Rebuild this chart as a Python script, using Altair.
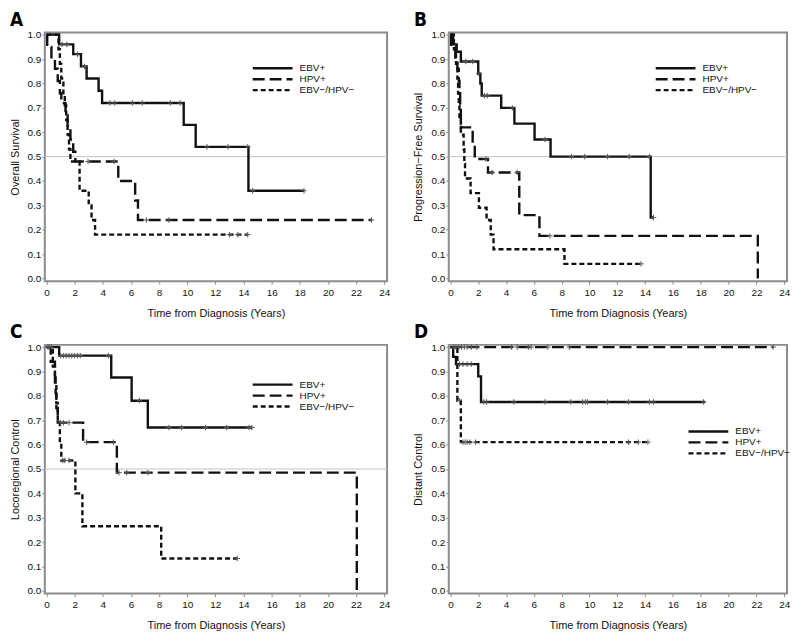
import altair as alt
import pandas as pd

GROUPS = ["EBV+", "HPV+", "EBV−/HPV−"]
X_TICKS = list(range(0, 25, 2))
Y_TICKS = [0.0, 0.1, 0.2, 0.3, 0.4, 0.5, 0.6, 0.7, 0.8, 0.9, 1.0]
X_TITLE = "Time from Diagnosis (Years)"

# ---- Panel A: Overall survival ----
A_EBV_T = [0, 0.9, 1.9, 2.45, 2.85, 3.7, 3.95, 9.75, 10.6, 14.35, 18.3]
A_EBV_S = [1.0, 0.96, 0.92, 0.87, 0.82, 0.77, 0.72, 0.63, 0.54, 0.36, 0.36]
A_EBV_C = [1.1, 1.45, 2.2, 2.7, 4.5, 4.85, 6.1, 6.8, 8.8, 9.5, 11.4, 12.9, 14.3, 14.65, 18.3]
A_HPV_T = [0, 0.05, 0.35, 0.6, 0.8, 0.95, 1.05, 1.35, 1.5, 1.7, 1.9, 2.05, 5.1, 6.3, 6.5, 23.1]
A_HPV_S = [1.0, 0.95, 0.90, 0.86, 0.81, 0.76, 0.72, 0.67, 0.62, 0.57, 0.52, 0.48, 0.40, 0.32, 0.24, 0.24]
A_HPV_C = [2.95, 4.8, 7.1, 8.7, 23.1]
A_NEG_T = [0, 0.85, 0.95, 1.05, 1.2, 1.3, 1.4, 1.5, 1.6, 1.7, 2.35, 3.0, 3.2, 3.45, 14.3]
A_NEG_S = [1.0, 0.94, 0.88, 0.82, 0.76, 0.71, 0.65, 0.59, 0.53, 0.48, 0.36, 0.30, 0.24, 0.18, 0.18]
A_NEG_C = [13.0, 13.6, 14.3]

# ---- Panel B: Progression-free survival ----
B_EBV_T = [0, 0.2, 0.45, 0.75, 2.0, 2.15, 2.25, 3.65, 4.6, 6.05, 7.2, 14.4, 14.6]
B_EBV_S = [1.0, 0.96, 0.93, 0.89, 0.84, 0.80, 0.75, 0.70, 0.635, 0.57, 0.50, 0.25, 0.25]
B_EBV_C = [1.1, 1.6, 2.05, 2.45, 2.65, 4.45, 6.8, 8.7, 9.65, 11.3, 12.85, 14.3, 14.6]
B_HPV_T = [0, 0.05, 0.35, 0.5, 0.6, 0.65, 0.7, 0.75, 1.6, 1.75, 2.7, 4.95, 6.4, 22.1]
B_HPV_S = [1.0, 0.95, 0.90, 0.86, 0.81, 0.76, 0.71, 0.62, 0.555, 0.49, 0.435, 0.26, 0.175, 0.0]
B_HPV_C = [2.55, 3.0, 4.8, 7.15]
B_NEG_T = [0, 0.25, 0.4, 0.5, 0.55, 0.6, 0.65, 0.75, 0.95, 1.0, 1.05, 1.45, 2.05, 2.6, 2.9, 3.1, 8.2, 13.7]
B_NEG_S = [1.0, 0.94, 0.88, 0.82, 0.76, 0.71, 0.65, 0.59, 0.53, 0.47, 0.41, 0.35, 0.29, 0.24, 0.18, 0.12, 0.06, 0.06]
B_NEG_C = [13.7]

# ---- Panel C: Locoregional control ----
C_EBV_T = [0, 0.9, 4.6, 6.05, 7.2, 14.6]
C_EBV_S = [1.0, 0.965, 0.875, 0.78, 0.67, 0.67]
C_EBV_C = [0.1, 0.2, 0.35, 1.0, 1.2, 1.4, 1.6, 1.8, 2.0, 2.2, 2.4, 4.4, 6.6, 8.7, 9.6, 11.3, 12.8, 14.4, 14.6]
C_HPV_T = [0, 0.3, 0.6, 0.65, 0.7, 0.8, 2.6, 5.0, 22.05]
C_HPV_S = [1.0, 0.94, 0.875, 0.81, 0.75, 0.69, 0.61, 0.485, 0.0]
C_HPV_C = [1.0, 1.2, 1.6, 2.85, 4.75, 5.15, 5.7, 7.2]
C_NEG_T = [0, 0.45, 0.6, 0.7, 0.8, 0.95, 1.05, 2.05, 2.55, 8.15, 13.55]
C_NEG_S = [1.0, 0.92, 0.85, 0.77, 0.69, 0.615, 0.535, 0.40, 0.265, 0.133, 0.133]
C_NEG_C = [1.15, 1.3, 1.6, 13.55]

# ---- Panel D: Distant control ----
D_EBV_T = [0, 0.2, 0.4, 2.0, 2.2, 18.3]
D_EBV_S = [1.0, 0.96, 0.93, 0.88, 0.775, 0.775]
D_EBV_C = [0.65, 0.9, 1.2, 1.5, 2.4, 2.6, 4.55, 6.8, 8.65, 9.5, 9.7, 9.85, 11.3, 12.8, 14.3, 14.6, 18.2]
D_HPV_T = [0, 23.2]
D_HPV_S = [1.0, 1.0]
D_HPV_C = [0.2, 0.4, 0.6, 0.8, 1.0, 1.2, 1.5, 1.9, 4.4, 4.8, 5.6, 5.8, 7.0, 8.55, 23.2]
D_NEG_T = [0, 0.5, 0.75, 14.3]
D_NEG_S = [1.0, 0.78, 0.61, 0.61]
D_NEG_C = [0.65, 0.9, 1.05, 1.2, 1.4, 1.8, 12.8, 13.5, 14.2]

PANELS = {
    "A": [(A_EBV_T, A_EBV_S, A_EBV_C), (A_HPV_T, A_HPV_S, A_HPV_C), (A_NEG_T, A_NEG_S, A_NEG_C)],
    "B": [(B_EBV_T, B_EBV_S, B_EBV_C), (B_HPV_T, B_HPV_S, B_HPV_C), (B_NEG_T, B_NEG_S, B_NEG_C)],
    "C": [(C_EBV_T, C_EBV_S, C_EBV_C), (C_HPV_T, C_HPV_S, C_HPV_C), (C_NEG_T, C_NEG_S, C_NEG_C)],
    "D": [(D_EBV_T, D_EBV_S, D_EBV_C), (D_HPV_T, D_HPV_S, D_HPV_C), (D_NEG_T, D_NEG_S, D_NEG_C)],
}


def value_at(T, S, t):
    v = S[0]
    for ti, si in zip(T, S):
        if ti <= t:
            v = si
    return v


line_rows, cens_rows = [], []
for pid, series in PANELS.items():
    for g, (T, S, C) in zip(GROUPS, series):
        for i, (t, s) in enumerate(zip(T, S)):
            line_rows.append({"panel": pid, "group": g, "t": t, "s": s, "i": i})
        for c in C:
            cens_rows.append({"panel": pid, "group": g, "t": c, "s": value_at(T, S, c)})
lines_df = pd.DataFrame(line_rows)
cens_df = pd.DataFrame(cens_rows)
ref_df = pd.DataFrame({"s": [0.5]})

FONT = "Liberation Sans"
FRAME = "#8c8c8c"


def panel(pid, ytitle, width, lx, ly, ref=True):
    x = alt.X("t:Q", scale=alt.Scale(domain=[-0.12, 24.2], nice=False, zero=False),
              axis=alt.Axis(values=X_TICKS, title=X_TITLE))
    y = alt.Y("s:Q", scale=alt.Scale(domain=[-0.011, 1.009], nice=False, zero=False),
              axis=alt.Axis(values=Y_TICKS, format=".1f", title=ytitle))
    lines = alt.Chart(lines_df).transform_filter(alt.datum.panel == pid).mark_line(
        interpolate="step-after", color="#111111", strokeWidth=2.4
    ).encode(
        x=x, y=y, order="i:Q",
        strokeDash=alt.StrokeDash(
            "group:N",
            scale=alt.Scale(domain=GROUPS, range=[[1, 0], [12, 5], [5, 3]]),
            legend=alt.Legend(
                orient="none", legendX=lx, legendY=ly, title=None,
                symbolType="M0,0H20", symbolSize=16, symbolStrokeWidth=2.4,
                symbolStrokeColor="#111111", labelFont=FONT, labelFontSize=10,
                labelColor="#111111", labelOffset=42, rowPadding=1, padding=0,
            ),
        ),
    )
    cens = alt.Chart(cens_df).transform_filter(alt.datum.panel == pid).mark_point(
        shape="M-1,0H1M0,-1V1", size=30, filled=False, color="#555555", strokeWidth=1, opacity=1
    ).encode(x=x, y=y)
    layers = []
    if ref:
        layers.append(alt.Chart(ref_df).mark_rule(color="#c4c4c4", strokeWidth=1).encode(y=y))
    layers += [lines, cens]
    return alt.layer(*layers).properties(
        width=width, height=250,
        title=alt.TitleParams(pid, anchor="start", fontSize=19, fontWeight="bold",
                              font="Liberation Sans Narrow, DejaVu Sans Condensed, sans-serif",
                              color="#000000", offset=0, dx=1),
    )


pa = panel("A", "Overall Survival", 344, 204, 31)
pb = panel("B", "Progression−Free Survival", 340, 203, 31)
pc = panel("C", "Locoregional Control", 344, 204, 35)
pd_ = panel("D", "Distant Control", 340, 236, 82, ref=False)

chart = alt.concat(pa, pb, pc, pd_, columns=2, spacing={"row": 64, "column": 62},
                   bounds="flush").resolve_scale(
    strokeDash="independent", x="independent", y="independent"
).resolve_legend(strokeDash="independent").properties(padding=0).configure_view(
    stroke=FRAME, strokeWidth=2
).configure_axis(
    grid=False, domain=False, tickColor=FRAME, tickSize=3, labelFont=FONT, labelFontSize=10,
    labelColor="#111111", titleFont=FONT, titleFontSize=11, titleFontWeight="normal",
    titleColor="#111111",
).configure_axisX(labelPadding=3, titlePadding=10).configure_axisY(labelPadding=1, titlePadding=7)

chart.save("out.html", embed_options={"renderer": "svg", "actions": False})
